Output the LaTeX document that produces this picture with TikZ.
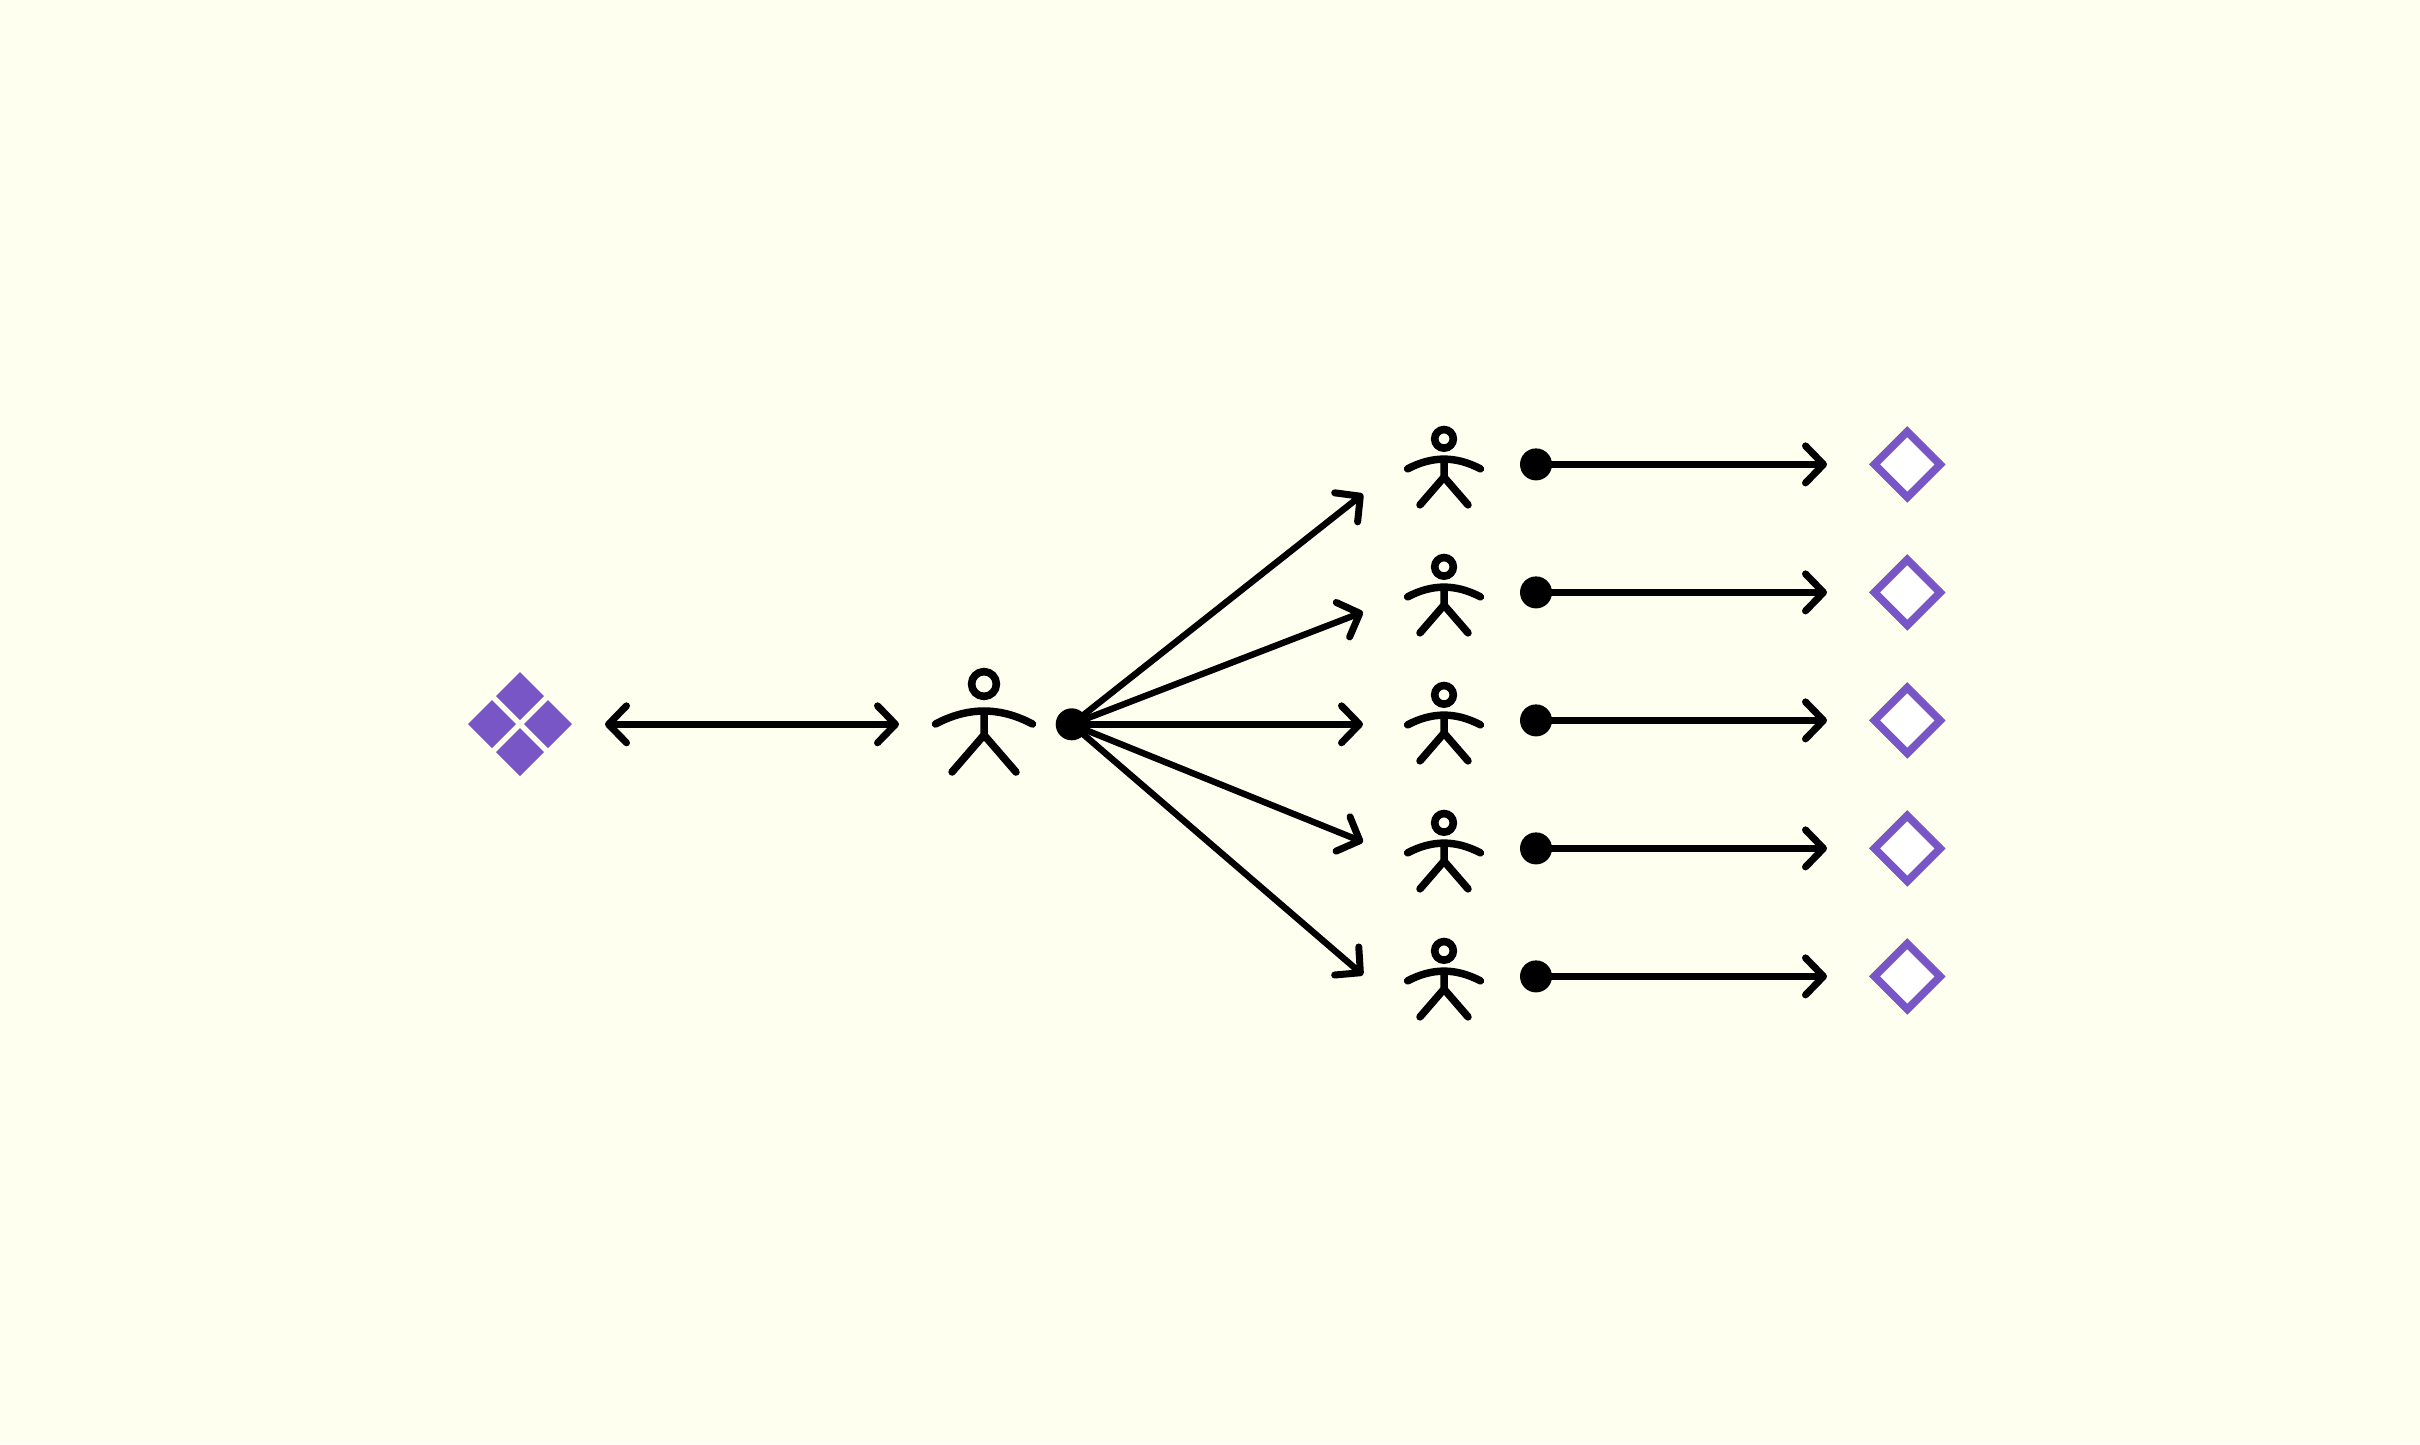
\documentclass[tikz,border=0pt]{standalone}
\usetikzlibrary{arrows.meta,shapes.geometric}
\definecolor{bgivory}{HTML}{FFFFF0}
\definecolor{iris}{HTML}{7856C6}
\tikzset{
  x=1pt,y=-1pt,
  barb/.tip={Straight Barb[round,length=18pt,width=37pt,line width=7pt]},
  link/.style={line width=6.4pt,black,line cap=round,-barb},
  biglink/.style={line width=6.4pt,black,line cap=round,barb-barb},
  hub/.style={circle,fill=black,minimum size=32pt,inner sep=0pt,outer sep=0pt},
  openstone/.style={diamond,draw=iris,fill=white,line width=7.8pt,minimum width=65.6pt,minimum height=65.6pt,inner sep=0pt,outer sep=0pt},
  solidstone/.style={diamond,fill=iris,minimum width=48pt,minimum height=48pt,inner sep=0pt,outer sep=0pt},
  actor/.pic={
    \draw[line width=7.5pt,line cap=round,line join=round]
      (-48.5,-11) .. controls (-16,-28.3) and (16,-28.3) .. (48.5,-11)
      (0,-24) -- (0,0)
      (-32,37) -- (0,0) -- (32,37);
    \draw[line width=7.6pt] (0,-51) circle[radius=12.4];
  }
}
\begin{document}
\begin{tikzpicture}
\useasboundingbox[fill=bgivory] (0,0) rectangle (2420,1444);
% portfolio
\node[solidstone] (s1) at (520,696) {};
\node[solidstone] (s2) at (492,724) {};
\node[solidstone] (s3) at (548,724) {};
\node[solidstone] (s4) at (520,752) {};
\coordinate (portR) at (605,724.3);
\coordinate (mainL) at (899,724.3);
\draw[biglink] (portR) -- (mainL);
% main actor
\pic at (984,735) {actor};
\node[hub] (mainhub) at (1071.7,724.3) {};
% tips
\coordinate (t1) at (1363,494);
\coordinate (t2) at (1363,612);
\coordinate (t3) at (1363,724.3);
\coordinate (t4) at (1363,842);
\coordinate (t5) at (1363,975);
\foreach \i in {1,...,5} \draw[link] (mainhub.center) -- (t\i);
% rows
\foreach \i/\y in {1/464.4,2/592.4,3/720.4,4/848.4,5/976.4}{
  \pic[scale=0.75] at (1444,\y+12.7) {actor};
  \node[hub] (h\i) at (1536,\y) {};
  \node[openstone] (d\i) at (1907.3,\y) {};
  \coordinate (e\i) at (1827,\y);
  \draw[link] (h\i.center) -- (e\i);
}
\end{tikzpicture}
\end{document}
